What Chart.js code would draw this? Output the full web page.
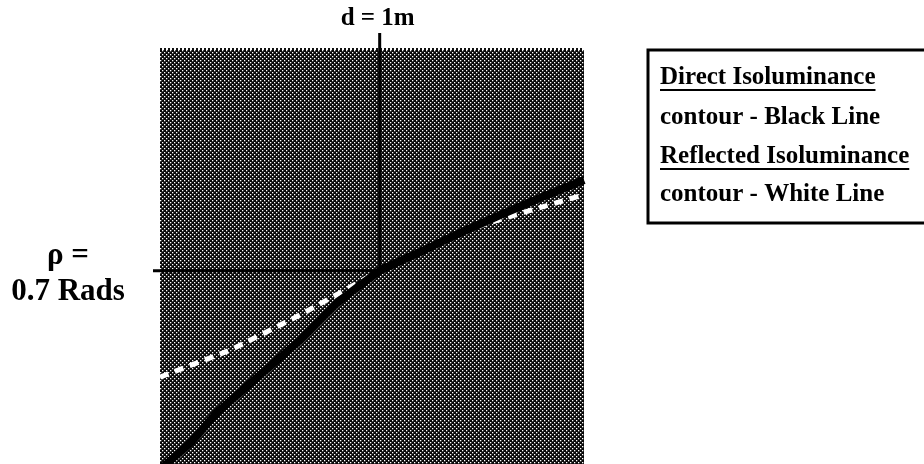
<!DOCTYPE html>
<html>
<head>
<meta charset="utf-8">
<script src="https://cdn.jsdelivr.net/npm/chart.js@4.4.1/dist/chart.umd.min.js"></script>
<style>
  html, body { margin: 0; padding: 0; background: #fff; overflow: hidden; }
  #wrap { width: 924px; height: 464px; }
</style>
</head>
<body>
<div id="wrap"><canvas id="chart" width="924" height="464"></canvas></div>
<script>
// ====== data (distance d in m, angle rho in rads) ======
const directX = [0.0, 0.137, 0.259, 0.455, 0.637, 0.806, 1.0, 1.183, 1.366, 1.548, 1.73, 1.93];
const directY = [-0.02, 0.076, 0.185, 0.322, 0.449, 0.583, 0.70, 0.768, 0.837, 0.902, 0.964, 1.029];
const reflectedX = [0.0, 0.319, 0.637, 1.0, 1.425, 1.844, 1.93];
const reflectedY = [0.315, 0.413, 0.54, 0.70, 0.855, 0.956, 0.975];
const markD = 1;      // d = 1m
const markRho = 0.7;  // rho = 0.7 rads
const legendLines = [
    { text: 'Direct Isoluminance', underline: true },
    { text: 'contour - Black Line', underline: false },
    { text: 'Reflected Isoluminance', underline: true },
    { text: 'contour - White Line', underline: false }
];

// ====== dotted dark fill ======
function makePattern(ctx) {
    const tile = document.createElement('canvas');
    tile.width = 4; tile.height = 4;
    const t = tile.getContext('2d');
    t.fillStyle = '#080808';
    t.fillRect(0, 0, 4, 4);
    t.fillStyle = '#ffffff';
    t.fillRect(0, 0, 1.3, 1.3);
    t.fillRect(2, 2, 1.3, 1.3);
    return ctx.createPattern(tile, 'repeat');
}

const backdrop = {
    id: 'backdrop',
    beforeDatasetsDraw(chart) {
        const { ctx, chartArea: a } = chart;
        ctx.save();
        ctx.fillStyle = makePattern(ctx);
        ctx.fillRect(a.left, a.top, a.right - a.left, a.bottom - a.top + 10);
        // serrated top edge
        ctx.fillStyle = '#111';
        for (let x = a.left; x < a.right; x += 4) ctx.fillRect(x, a.top - 2, 2, 2);
        ctx.restore();
    }
};

const annotations = {
    id: 'annotations',
    afterDraw(chart) {
        const { ctx, scales } = chart;
        const px = scales.x.getPixelForValue(markD);
        const py = scales.y.getPixelForValue(markRho);
        ctx.save();
        ctx.strokeStyle = '#000';
        ctx.lineWidth = 3;
        ctx.beginPath();
        ctx.moveTo(px, 33);
        ctx.lineTo(px, py);
        ctx.moveTo(153, py);
        ctx.lineTo(px, py);
        ctx.stroke();

        ctx.fillStyle = '#000';
        ctx.textAlign = 'center';
        ctx.textBaseline = 'middle';
        ctx.font = 'bold 25px "Liberation Serif", "Times New Roman", serif';
        ctx.fillText('d = ' + markD + 'm', px - 2, 19);
        ctx.font = 'bold 31px "Liberation Serif", "Times New Roman", serif';
        ctx.fillText('\u03c1 =', 68, 256);
        ctx.fillText(markRho + ' Rads', 68, 292);

        // legend box
        ctx.lineWidth = 3;
        ctx.strokeRect(648, 50, 300, 173);
        ctx.textAlign = 'left';
        ctx.font = 'bold 25px "Liberation Serif", "Times New Roman", serif';
        const ys = [78, 118, 157, 195];
        legendLines.forEach((l, i) => {
            ctx.fillText(l.text, 660, ys[i]);
            if (l.underline) {
                const w = ctx.measureText(l.text).width;
                ctx.lineWidth = 2;
                ctx.beginPath();
                ctx.moveTo(660, ys[i] + 12);
                ctx.lineTo(660 + w, ys[i] + 12);
                ctx.stroke();
            }
        });
        ctx.restore();
    }
};

new Chart(document.getElementById('chart').getContext('2d'), {
    type: 'scatter',
    data: {
        datasets: [
            {
                label: 'Direct Isoluminance contour - Black Line',
                data: directX.map((x, i) => ({ x, y: directY[i] })),
                showLine: true,
                borderColor: '#000',
                borderWidth: 8,
                pointRadius: 0,
                tension: 0.1,
                clip: false
            },
            {
                label: 'Reflected Isoluminance contour - White Line',
                data: reflectedX.map((x, i) => ({ x, y: reflectedY[i] })),
                showLine: true,
                borderColor: '#fff',
                borderWidth: 5,
                borderDash: [9, 7],
                pointRadius: 0,
                tension: 0.1
            }
        ]
    },
    options: {
        responsive: false,
        animation: false,
        devicePixelRatio: 1,
        layout: { padding: { left: 160, right: 340, top: 50, bottom: 0 } },
        plugins: { legend: { display: false }, tooltip: { enabled: false } },
        scales: {
            x: { type: 'linear', min: 0, max: 1.93, display: false },
            y: { type: 'linear', min: 0, max: 1.5, display: false }
        }
    },
    plugins: [backdrop, annotations]
});
</script>
</body>
</html>
